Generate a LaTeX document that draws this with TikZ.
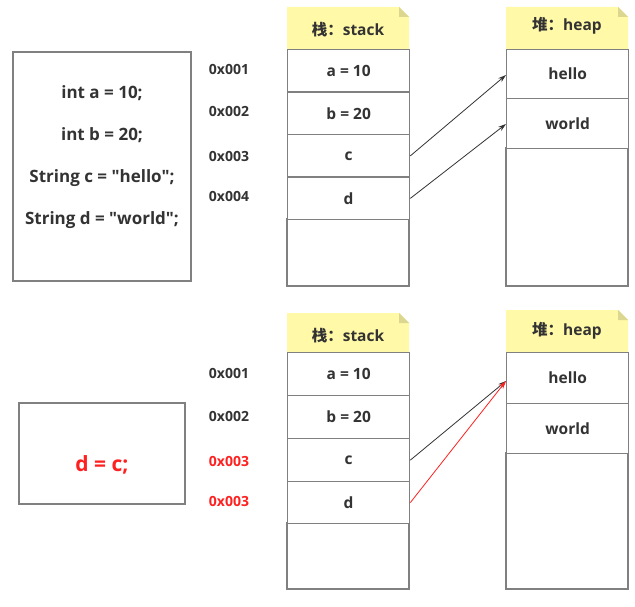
\documentclass[tikz,border=0pt]{standalone}
\usepackage{fontspec}
\setmainfont{Open Sans}
\newfontfamily\codef{Open Sans}
\newfontfamily\cjk{Noto Sans CJK SC}
\usetikzlibrary{arrows.meta}
\definecolor{txt}{HTML}{333333}
\definecolor{ln}{HTML}{808080}
\definecolor{noteY}{HTML}{FFF9A8}
\definecolor{foldY}{HTML}{DCD790}
\definecolor{redc}{HTML}{FF2020}
\tikzset{
  x=1pt, y=-1pt,
  cell/.style={draw=ln, line width=1.3pt, fill=white},
  lbl/.style={font=\fontsize{15.5}{18}\selectfont\bfseries, text=txt, inner sep=0pt},
  codetxt/.style={font=\codef\fontsize{17}{20}\selectfont\bfseries, text=txt, inner sep=0pt},
  addr/.style={font=\fontsize{14}{16}\selectfont\bfseries, text=txt, inner sep=0pt},
  ptr/.style={draw=txt, line width=0.8pt, -{Stealth[length=8pt,width=5pt]}},
}
\newcommand{\notehdr}[4]{% x1, y1, x2, y2
  \fill[noteY] (#1,#2) -- ({#3-10},#2) -- (#3,{#2+10}) -- (#3,#4) -- (#1,#4) -- cycle;
  \fill[foldY] ({#3-10},#2) -- (#3,{#2+10}) -- ({#3-10},{#2+10}) -- cycle;
}
\begin{document}
\begin{tikzpicture}
\useasboundingbox (0,0) rectangle (635,607);
\fill[white] (0,0) rectangle (635,607);

% ===== top =====
\draw[cell] (13,52) rectangle (191,281);
\node[codetxt] (c1) at (102,93) {int a = 10;};
\node[codetxt] (c2) at (102,135) {int b = 20;};
\node[codetxt] (c3) at (102,178) {String c = "hello";};
\node[codetxt] (c4) at (102,220) {String d = "world";};

\notehdr{287}{7}{409}{49}
\node[lbl] (s1h) at (348,30) {{\cjk\bfseries 栈：}stack};
\notehdr{506}{7}{628}{49}
\node[lbl] (h1h) at (567,26) {{\cjk\bfseries 堆：}heap};

\draw[cell] (287,219) rectangle (409,286);
\node[cell, minimum width=122pt, minimum height=42.5pt, anchor=north west, lbl, draw=ln] (sa) at (287,49) {a = 10};
\node[cell, minimum width=122pt, minimum height=42.5pt, anchor=north west, lbl, draw=ln] (sb) at (287,91.5) {b = 20};
\node[cell, minimum width=122pt, minimum height=42.5pt, anchor=north west, lbl, draw=ln] (sc) at (287,134) {c};
\node[cell, minimum width=122pt, minimum height=42.5pt, anchor=north west, lbl, draw=ln] (sd) at (287,176.5) {d};

\draw[cell] (506,148) rectangle (628,286);
\node[cell, minimum width=122pt, minimum height=49pt, anchor=north west, lbl, draw=ln] (hh) at (506,49) {hello};
\node[cell, minimum width=122pt, minimum height=50pt, anchor=north west, lbl, draw=ln] (hw) at (506,98) {world};

\node[addr] (a1) at (229,69) {0x001};
\node[addr] (a2) at (229,111) {0x002};
\node[addr] (a3) at (229,156) {0x003};
\node[addr] (a4) at (229,196) {0x004};

\draw[ptr] (sc.east) -- (506,75) coordinate (q1);
\draw[ptr] (sd.east) -- (506,124) coordinate (q2);

% ===== bottom =====
\draw[cell] (19,403) rectangle (185,504);
\node[font=\fontsize{21}{24}\selectfont\bfseries, text=redc, inner sep=0pt] (dc) at (102,465) {d = c;};

\notehdr{287}{313}{409}{352}
\node[lbl] (s2h) at (348,336) {{\cjk\bfseries 栈：}stack};
\notehdr{506}{310}{628}{352}
\node[lbl] (h2h) at (567,331) {{\cjk\bfseries 堆：}heap};

\draw[cell] (287,523) rectangle (409,589);
\node[cell, minimum width=122pt, minimum height=43pt, anchor=north west, lbl, draw=ln] (ta) at (287,352) {a = 10};
\node[cell, minimum width=122pt, minimum height=43pt, anchor=north west, lbl, draw=ln] (tb) at (287,395) {b = 20};
\node[cell, minimum width=122pt, minimum height=43pt, anchor=north west, lbl, draw=ln] (tc) at (287,438) {c};
\node[cell, minimum width=122pt, minimum height=42pt, anchor=north west, lbl, draw=ln] (td) at (287,481) {d};

\draw[cell] (506,453) rectangle (628,589);
\node[cell, minimum width=122pt, minimum height=51pt, anchor=north west, lbl, draw=ln] (gh) at (506,352) {hello};
\node[cell, minimum width=122pt, minimum height=50pt, anchor=north west, lbl, draw=ln] (gw) at (506,403) {world};

\node[addr] (b1) at (229,373) {0x001};
\node[addr] (b2) at (229,416) {0x002};
\node[addr, text=redc] (b3) at (229,461) {0x003};
\node[addr, text=redc] (b4) at (229,501) {0x003};

\coordinate (tgt) at (506,381);
\draw[ptr] (tc.east) -- (tgt);
\draw[ptr, draw=redc] (td.east) -- (tgt);
\end{tikzpicture}
\end{document}
